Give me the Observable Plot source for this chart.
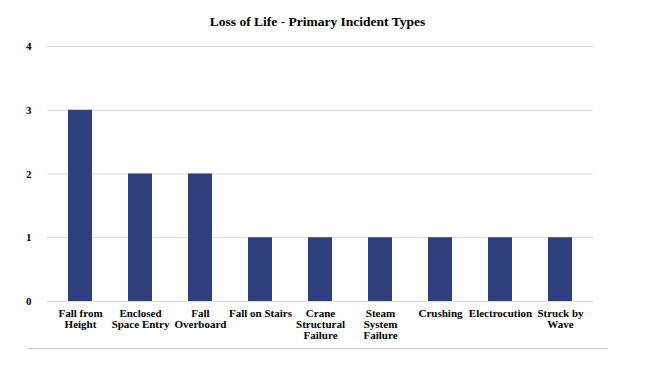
<!DOCTYPE html>
<html>
<head>
<meta charset="utf-8">
<script src="https://cdn.jsdelivr.net/npm/d3@7"></script>
<script src="https://cdn.jsdelivr.net/npm/@observablehq/plot@0.6"></script>
<style>
  body { margin: 0; background: #fff; }
  #wrap { position: relative; width: 663px; height: 370px; }
  #rule { position: absolute; left: 27px; top: 348px; width: 581px; border-top: 1px solid #d0d0d0; }
  #wrap svg, #wrap svg text { font-family: "Liberation Serif", "Times New Roman", Times, serif !important; }
</style>
</head>
<body>
<div id="wrap"><div id="rule"></div></div>
<script>
const categories = ["Fall from Height", "Enclosed Space Entry", "Fall Overboard", "Fall on Stairs", "Crane Structural Failure", "Steam System Failure", "Crushing", "Electrocution", "Struck by Wave"];
const tickLabels = ["Fall from\nHeight", "Enclosed\nSpace Entry", "Fall\nOverboard", "Fall on Stairs", "Crane\nStructural\nFailure", "Steam\nSystem\nFailure", "Crushing", "Electrocution", "Struck by\nWave"];
const deaths = [3, 2, 2, 1, 1, 1, 1, 1, 1];
const yTicks = [0, 1, 2, 3, 4];
const title = "Loss of Life - Primary Incident Types";

const serif = "Liberation Serif";
const data = categories.map((c, i) => ({category: c, value: deaths[i]}));

const chart = Plot.plot({
  width: 663,
  height: 370,
  marginLeft: 47,
  marginRight: 70,
  marginTop: 46,
  marginBottom: 69,
  style: "font-size: 11px; font-weight: bold; color: #000; background: transparent;",
  x: {domain: categories, paddingInner: 0.6, paddingOuter: 0.31, label: null},
  y: {domain: [0, 4], label: null},
  marks: [
    Plot.gridY(yTicks, {stroke: "#d9d9d9", strokeOpacity: 1, strokeWidth: 1}),
    Plot.barY(data, {x: "category", y: "value", fill: "#2f3f7e"}),
    Plot.axisY(yTicks, {tickSize: 0, tickPadding: 16, tickFormat: d => String(d), fontSize: 11, fontWeight: "bold", fontFamily: serif}),
    Plot.axisX({tickSize: 0, tickPadding: 8, tickFormat: (d) => tickLabels[categories.indexOf(d)], fontSize: 11, fontWeight: "bold", lineHeight: 1.0, fontFamily: serif}),
    Plot.text([title], {frameAnchor: "top", dy: -30, fontSize: 13.5, fontWeight: "bold", fill: "#000", dx: -3, fontFamily: serif})
  ]
});
document.getElementById("wrap").prepend(chart);
</script>
</body>
</html>
